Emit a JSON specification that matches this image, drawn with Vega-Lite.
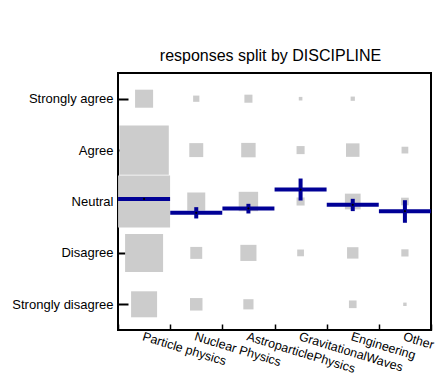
{
  "$schema": "https://vega.github.io/schema/vega-lite/v6.json",
  "width": 313,
  "height": 257,
  "autosize": "none",
  "padding": {"left": 118, "top": 73, "right": 7, "bottom": 52},
  "background": "white",
  "title": {"text": "responses split by DISCIPLINE", "fontSize": 16, "fontWeight": "normal", "font": "Liberation Sans", "baseline": "alphabetic", "offset": -4, "anchor": "middle", "color": "black", "dx": -4},
  "config": {"view": {"stroke": "black", "strokeWidth": 2}, "font": "Liberation Sans"},
  "datasets": {
    "counts": [
      {"discipline": "Particle physics", "response": 5, "n": 25},
      {"discipline": "Particle physics", "response": 4, "n": 188},
      {"discipline": "Particle physics", "response": 3, "n": 208},
      {"discipline": "Particle physics", "response": 2, "n": 111},
      {"discipline": "Particle physics", "response": 1, "n": 52},
      {"discipline": "Nuclear Physics", "response": 5, "n": 3},
      {"discipline": "Nuclear Physics", "response": 4, "n": 15},
      {"discipline": "Nuclear Physics", "response": 3, "n": 25},
      {"discipline": "Nuclear Physics", "response": 2, "n": 11},
      {"discipline": "Nuclear Physics", "response": 1, "n": 12},
      {"discipline": "AstroparticlePhysics", "response": 5, "n": 5},
      {"discipline": "AstroparticlePhysics", "response": 4, "n": 16},
      {"discipline": "AstroparticlePhysics", "response": 3, "n": 29},
      {"discipline": "AstroparticlePhysics", "response": 2, "n": 20},
      {"discipline": "AstroparticlePhysics", "response": 1, "n": 8},
      {"discipline": "GravitationalWaves", "response": 5, "n": 1},
      {"discipline": "GravitationalWaves", "response": 4, "n": 5},
      {"discipline": "GravitationalWaves", "response": 3, "n": 5},
      {"discipline": "GravitationalWaves", "response": 2, "n": 3.5},
      {"discipline": "GravitationalWaves", "response": 1, "n": 0},
      {"discipline": "Engineering", "response": 5, "n": 1.4},
      {"discipline": "Engineering", "response": 4, "n": 14},
      {"discipline": "Engineering", "response": 3, "n": 19},
      {"discipline": "Engineering", "response": 2, "n": 10},
      {"discipline": "Engineering", "response": 1, "n": 4.5},
      {"discipline": "Other", "response": 5, "n": 0},
      {"discipline": "Other", "response": 4, "n": 3.5},
      {"discipline": "Other", "response": 3, "n": 4.5},
      {"discipline": "Other", "response": 2, "n": 4},
      {"discipline": "Other", "response": 1, "n": 0.9}
    ],
    "stats": [
      {"discipline": "Particle physics", "mean": 3.05, "lo": 3.02, "hi": 3.08},
      {"discipline": "Nuclear Physics", "mean": 2.78, "lo": 2.67, "hi": 2.89},
      {"discipline": "AstroparticlePhysics", "mean": 2.864, "lo": 2.767, "hi": 2.955},
      {"discipline": "GravitationalWaves", "mean": 3.233, "lo": 3.019, "hi": 3.447},
      {"discipline": "Engineering", "mean": 2.936, "lo": 2.813, "hi": 3.052},
      {"discipline": "Other", "mean": 2.812, "lo": 2.586, "hi": 3.025}
    ]
  },
  "layer": [
    {
      "data": {"name": "counts"},
      "mark": {"type": "square", "color": "#cccccc", "opacity": 1, "filled": true},
      "encoding": {
        "x": {
          "field": "discipline", "type": "nominal",
          "sort": ["Particle physics", "Nuclear Physics", "AstroparticlePhysics", "GravitationalWaves", "Engineering", "Other"],
          "scale": {"paddingInner": 0, "paddingOuter": 0},
          "axis": {"title": null, "tickBand": "extent", "tickSize": -6, "tickWidth": 1.5, "tickColor": "black", "domain": false, "grid": false, "labelAngle": 17, "labelAlign": "left", "labelBaseline": "top", "labelFontSize": 12.5, "labelFont": "Liberation Sans", "labelColor": "black", "labelPadding": 6, "labelOverlap": false, "labelBound": false, "labelFlush": false}
        },
        "y": {
          "field": "response", "type": "quantitative",
          "scale": {"domain": [0.5, 5.5], "nice": false, "zero": false},
          "axis": {"title": null, "values": [1, 2, 3, 4, 5], "labelExpr": "datum.value == 5 ? 'Strongly agree' : datum.value == 4 ? 'Agree' : datum.value == 3 ? 'Neutral' : datum.value == 2 ? 'Disagree' : 'Strongly disagree'", "tickSize": -10, "tickWidth": 2, "tickColor": "black", "domain": false, "grid": false, "labelFontSize": 13, "labelFont": "Liberation Sans", "labelColor": "black", "labelPadding": 15}
        },
        "size": {"field": "n", "type": "quantitative", "scale": {"type": "linear", "domain": [0, 208], "range": [0, 2704]}, "legend": null}
      }
    },
    {
      "data": {"name": "stats"},
      "mark": {"type": "tick", "color": "#000096", "thickness": 4, "size": 52, "opacity": 1},
      "encoding": {
        "x": {"field": "discipline", "type": "nominal", "sort": ["Particle physics", "Nuclear Physics", "AstroparticlePhysics", "GravitationalWaves", "Engineering", "Other"]},
        "y": {"field": "mean", "type": "quantitative"}
      }
    },
    {
      "data": {"name": "stats"},
      "mark": {"type": "rule", "color": "#000096", "strokeWidth": 4},
      "encoding": {
        "x": {"field": "discipline", "type": "nominal", "sort": ["Particle physics", "Nuclear Physics", "AstroparticlePhysics", "GravitationalWaves", "Engineering", "Other"]},
        "y": {"field": "lo", "type": "quantitative"},
        "y2": {"field": "hi"}
      }
    },
    {
      "data": {"name": "stats"},
      "mark": {"type": "point", "filled": true, "color": "black", "size": 5, "opacity": 1},
      "encoding": {
        "x": {"field": "discipline", "type": "nominal", "sort": ["Particle physics", "Nuclear Physics", "AstroparticlePhysics", "GravitationalWaves", "Engineering", "Other"]},
        "y": {"field": "mean", "type": "quantitative"}
      }
    }
  ]
}
